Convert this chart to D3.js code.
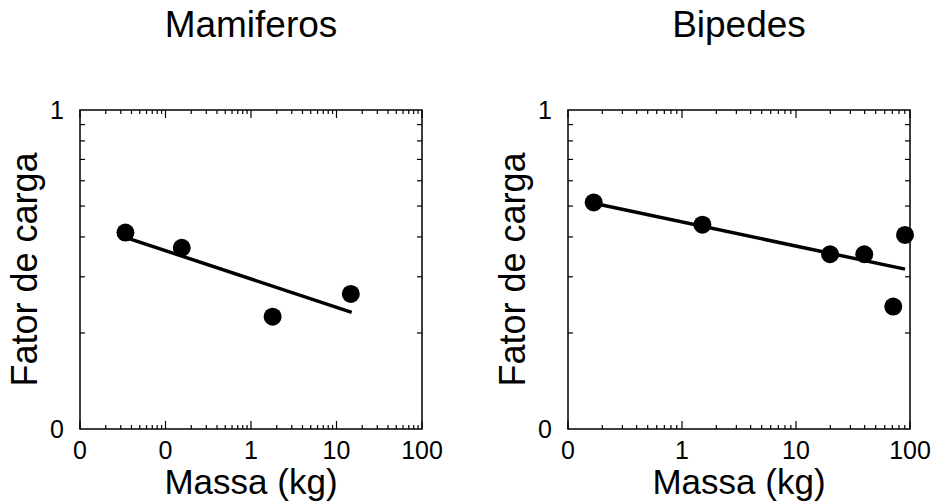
<!DOCTYPE html>
<html><head><meta charset="utf-8">
<script src="https://cdn.jsdelivr.net/npm/d3@7"></script>
<style>body{margin:0;background:#fff}svg{display:block}text{font-family:"Liberation Sans",Arial,sans-serif;fill:#000}</style>
</head><body>
<svg id="c" width="933" height="503"></svg>
<script>
// Panel titles
const panelTitles = ["Mamiferos", "Bipedes"];
// Mamiferos data
const mamMass = [0.034, 0.155, 1.79, 14.7];
const mamFactor = [0.413, 0.37, 0.225, 0.265];
const mamLineMass = [0.0367, 15.06];
const mamLineFactor = [0.396, 0.232];
// Bipedes data
const bipMass = [0.168, 1.51, 19.9, 39.7, 71.3, 90.4];
const bipFactor = [0.513, 0.437, 0.353, 0.353, 0.242, 0.406];
const bipLineMass = [0.168, 90.4];
const bipLineFactor = [0.51, 0.317];
// Axes
const mamXDomain = [0.01, 100];
const bipXDomain = [0.1, 100];
const yDomain = [0.1, 1];
const mamXTicks = [0.01, 0.1, 1, 10, 100];
const bipXTicks = [0.1, 1, 10, 100];
const yTicks = [0.1, 1];
const xTitle = "Massa (kg)";
const yTitle = "Fator de carga";

const svg = d3.select("#c");
const fmt = d3.format(".0f");

function panel(left, title, xDomain, xTicks, mass, factor, lineMass, lineFactor) {
  const top = 110, w = 342, h = 319;
  const g = svg.append("g").attr("transform", `translate(${left},${top})`);
  const x = d3.scaleLog().domain(xDomain).range([0, w]);
  const y = d3.scaleLog().domain(yDomain).range([h, 0]);

  const minorX = [];
  for (let e = Math.log10(xDomain[0]); e < Math.log10(xDomain[1]); e++) {
    for (let k = 2; k <= 9; k++) minorX.push(k * Math.pow(10, e));
  }
  const minorY = [0.2,0.3,0.4,0.5,0.6,0.7,0.8,0.9];

  const tk = g.append("g").attr("stroke", "#000").attr("stroke-width", 1.2);
  minorX.forEach(v => {
    tk.append("line").attr("x1", x(v)).attr("x2", x(v)).attr("y1", h).attr("y2", h - 4);
    tk.append("line").attr("x1", x(v)).attr("x2", x(v)).attr("y1", 0).attr("y2", 4);
  });
  xTicks.forEach(v => {
    tk.append("line").attr("x1", x(v)).attr("x2", x(v)).attr("y1", h).attr("y2", h - 8);
    tk.append("line").attr("x1", x(v)).attr("x2", x(v)).attr("y1", 0).attr("y2", 8);
  });
  minorY.forEach(v => {
    tk.append("line").attr("x1", 0).attr("x2", 5).attr("y1", y(v)).attr("y2", y(v));
    tk.append("line").attr("x1", w).attr("x2", w - 5).attr("y1", y(v)).attr("y2", y(v));
  });

  g.append("rect").attr("width", w).attr("height", h)
    .attr("fill", "none").attr("stroke", "#000").attr("stroke-width", 1.5);

  xTicks.forEach(v => {
    g.append("text").attr("x", x(v)).attr("y", h + 30).attr("text-anchor", "middle")
      .attr("font-size", 25).text(fmt(v));
  });
  yTicks.forEach(v => {
    g.append("text").attr("x", -16).attr("y", y(v) + 9).attr("text-anchor", "end")
      .attr("font-size", 25).text(fmt(v));
  });

  const lineData = lineMass.map((m, i) => [m, lineFactor[i]]);
  g.append("path").attr("d", d3.line().x(d => x(d[0])).y(d => y(d[1]))(lineData))
    .attr("stroke", "#000").attr("stroke-width", 3.5).attr("fill", "none");

  g.selectAll("circle.pt").data(mass.map((m, i) => [m, factor[i]])).join("circle")
    .attr("class", "pt").attr("cx", d => x(d[0])).attr("cy", d => y(d[1]))
    .attr("r", 9).attr("fill", "#000");

  svg.append("text").attr("x", left + w / 2).attr("y", 37).attr("text-anchor", "middle")
    .attr("font-size", 37).text(title);
  svg.append("text").attr("x", left + w / 2).attr("y", 494).attr("text-anchor", "middle")
    .attr("font-size", 35).text(xTitle);
  svg.append("text").attr("transform", `translate(${left - 43},${top + h / 2}) rotate(-90)`)
    .attr("text-anchor", "middle").attr("font-size", 36).text(yTitle);
}

panel(80, panelTitles[0], mamXDomain, mamXTicks, mamMass, mamFactor, mamLineMass, mamLineFactor);
panel(568, panelTitles[1], bipXDomain, bipXTicks, bipMass, bipFactor, bipLineMass, bipLineFactor);
</script>
</body></html>
